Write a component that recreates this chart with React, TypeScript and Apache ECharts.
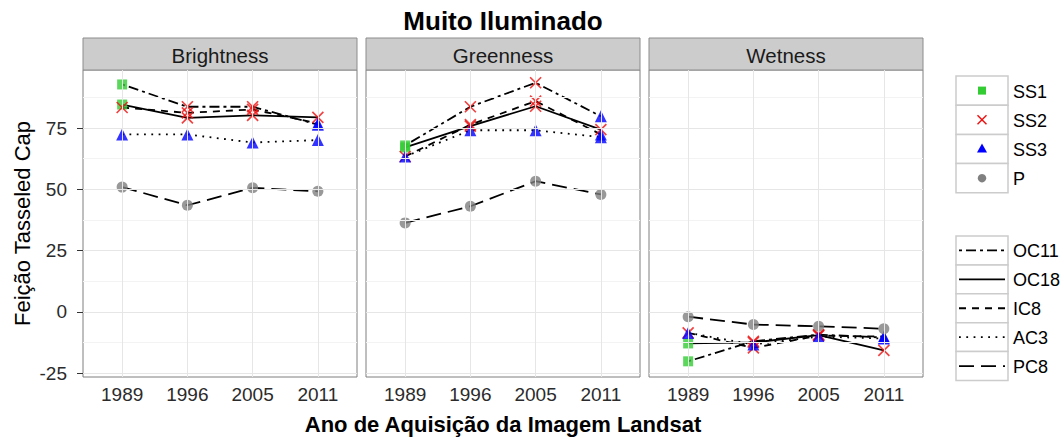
import React, { useEffect, useRef } from 'react';
import * as echarts from 'echarts';

// ---------- data ----------
const years = ['1989', '1996', '2005', '2011'];
const panels = ['Brightness', 'Greenness', 'Wetness'];
const lineTypes = ['OC11', 'OC18', 'IC8', 'AC3', 'PC8'];
const shapeNames = ['SS1', 'SS2', 'SS3', 'P'];
const yTicks = [-25, 0, 25, 50, 75];
const yMinor = [-12.5, 12.5, 37.5, 62.5, 87.5];
const xPositions = [1, 2, 3, 4];

// marker class of each point, per line type (same in every panel)
const shapeOC11 = ['SS1', 'SS2', 'SS2', 'SS3'];
const shapeOC18 = ['SS1', 'SS2', 'SS2', 'SS2'];
const shapeIC8 = ['SS2', 'SS2', 'SS2', 'SS3'];
const shapeAC3 = ['SS3', 'SS3', 'SS3', 'SS3'];
const shapePC8 = ['P', 'P', 'P', 'P'];

const brightnessOC11 = [92.8, 83.7, 83.7, 76.4];
const brightnessOC18 = [84.6, 79.2, 80.2, 79.4];
const brightnessIC8 = [83.4, 81.2, 82.6, 76.9];
const brightnessAC3 = [72.4, 72.4, 69.1, 70.1];
const brightnessPC8 = [50.9, 43.5, 50.6, 49.2];

const greennessOC11 = [67.9, 83.7, 93.5, 79.8];
const greennessOC18 = [67.1, 75.8, 83.9, 74.4];
const greennessIC8 = [63.4, 76.4, 86.0, 72.4];
const greennessAC3 = [63.4, 74.1, 74.1, 71.3];
const greennessPC8 = [36.3, 43.1, 53.3, 47.9];

const wetnessOC11 = [-20.2, -12.0, -9.3, -10.5];
const wetnessOC18 = [-12.9, -12.5, -9.5, -15.7];
const wetnessIC8 = [-8.6, -14.7, -9.7, -10.1];
const wetnessAC3 = [-8.6, -13.3, -10.1, -10.9];
const wetnessPC8 = [-2.0, -5.2, -5.9, -6.9];

// ---------- styling ----------
const FONT = '"Liberation Sans", Arial, Helvetica, sans-serif';
const shapesByLine = [shapeOC11, shapeOC18, shapeIC8, shapeAC3, shapePC8];
const valuesByPanel = [
  [brightnessOC11, brightnessOC18, brightnessIC8, brightnessAC3, brightnessPC8],
  [greennessOC11, greennessOC18, greennessIC8, greennessAC3, greennessPC8],
  [wetnessOC11, wetnessOC18, wetnessIC8, wetnessAC3, wetnessPC8],
];
const dashByLine: any[] = [[3, 4, 10, 4], 'solid', [7, 6], [1.8, 5.5], [15, 7]];
const XPATH = 'path://M0,0L10,10M10,0L0,10';
const shapeStyle: Record<string, any> = {
  SS1: { symbol: 'rect', size: 10, itemStyle: { color: '#33cc33' } },
  SS2: { symbol: XPATH, size: 11, itemStyle: { color: 'rgba(0,0,0,0)', borderColor: '#ee1111', borderWidth: 1.7 } },
  SS3: { symbol: 'triangle', size: 12, itemStyle: { color: '#0000ff' } },
  P: { symbol: 'circle', size: 11, itemStyle: { color: '#808080' } },
};

const PANEL_LEFT = [83, 366, 649];
const PANEL_TOP = 70;
const PANEL_W = 274;
const PANEL_H = 307;
const STRIP_TOP = 38;
const LINE_W = 1.8;

export default function App() {
  const ref = useRef<HTMLDivElement>(null);
  useEffect(() => {
    if (!ref.current) return;
    const chart = echarts.init(ref.current, undefined, { renderer: 'svg' });

    const grid = panels.map((_, i) => ({
      left: PANEL_LEFT[i], top: PANEL_TOP, width: PANEL_W, height: PANEL_H,
      show: true, backgroundColor: '#ffffff', borderColor: '#7f7f7f', borderWidth: 1,
    }));

    const xAxis = panels.map((_, i) => ({
      type: 'value', gridIndex: i, min: 0.4, max: 4.6,
      axisLine: { show: false },
      splitLine: { show: false },
      axisTick: { show: true, customValues: xPositions, length: 6, lineStyle: { color: '#333', width: 1 } },
      axisLabel: {
        show: true, customValues: xPositions, margin: 8, fontSize: 19, color: '#2b2b2b', fontFamily: FONT,
        formatter: (v: number) => years[Math.round(v) - 1] ?? '',
      },
    }));

    const yAxis = panels.map((_, i) => ({
      type: 'value', gridIndex: i, min: -26.6, max: 98.7,
      axisLine: { show: false },
      splitLine: { show: false },
      axisTick: { show: i === 0, customValues: yTicks, length: 6, lineStyle: { color: '#333', width: 1 } },
      axisLabel: {
        show: i === 0, customValues: yTicks, margin: 16, fontSize: 19, color: '#2b2b2b', fontFamily: FONT,
      },
    }));

    const series: any[] = [];
    panels.forEach((_, i) => {
      // grid lines
      series.push({
        type: 'line', xAxisIndex: i, yAxisIndex: i, data: [], silent: true, z: 1,
        markLine: {
          silent: true, symbol: ['none', 'none'], animation: false,
          label: { show: false },
          data: [
            ...yMinor.map((v) => ({ yAxis: v, lineStyle: { color: '#f3f3f3', width: 1, type: 'solid' } })),
            ...yTicks.map((v) => ({ yAxis: v, lineStyle: { color: '#e6e6e6', width: 1, type: 'solid' } })),
            ...xPositions.map((v) => ({ xAxis: v, lineStyle: { color: '#e6e6e6', width: 1, type: 'solid' } })),
          ],
        },
      });
      // lines
      lineTypes.forEach((lt, j) => {
        series.push({
          name: lt, type: 'line', xAxisIndex: i, yAxisIndex: i, z: 3, silent: true,
          symbol: 'none',
          data: valuesByPanel[i][j].map((v, k) => [xPositions[k], v]),
          lineStyle: { color: '#000', width: LINE_W, type: dashByLine[j] },
        });
      });
      // points
      shapeNames.forEach((s) => {
        const pts: number[][] = [];
        lineTypes.forEach((_, j) => {
          valuesByPanel[i][j].forEach((v, k) => {
            if (shapesByLine[j][k] === s) pts.push([xPositions[k], v]);
          });
        });
        const st = shapeStyle[s];
        series.push({
          name: s, type: 'scatter', xAxisIndex: i, yAxisIndex: i, z: 4, silent: true,
          symbol: st.symbol, symbolSize: st.size, itemStyle: st.itemStyle, data: pts,
        });
      });
    });

    // ---------- graphic: title, strips, axis titles, legends ----------
    const g: any[] = [];
    const plotCenter = (PANEL_LEFT[0] + PANEL_LEFT[2] + PANEL_W) / 2;
    g.push({
      type: 'text', x: plotCenter, y: 21,
      style: { text: 'Muito Iluminado', fontSize: 26, fontWeight: 'bold', fontFamily: FONT, fill: '#000', align: 'center', verticalAlign: 'middle' },
    });
    panels.forEach((p, i) => {
      g.push({
        type: 'rect', shape: { x: PANEL_LEFT[i], y: STRIP_TOP, width: PANEL_W, height: PANEL_TOP - STRIP_TOP },
        style: { fill: '#cccccc', stroke: '#8c8c8c', lineWidth: 1 },
      });
      g.push({
        type: 'text', x: PANEL_LEFT[i] + PANEL_W / 2, y: (STRIP_TOP + PANEL_TOP) / 2 + 1,
        style: { text: p, fontSize: 20.5, fontFamily: FONT, fill: '#1a1a1a', align: 'center', verticalAlign: 'middle' },
      });
    });
    g.push({
      type: 'text', x: 22, y: PANEL_TOP + PANEL_H / 2, rotation: Math.PI / 2,
      style: { text: 'Feição Tasseled Cap', fontSize: 22, fontFamily: FONT, fill: '#000', align: 'center', verticalAlign: 'middle' },
    });
    g.push({
      type: 'text', x: plotCenter, y: 424,
      style: { text: 'Ano de Aquisição da Imagem Landsat', fontSize: 22, fontWeight: 'bold', fontFamily: FONT, fill: '#000', align: 'center', verticalAlign: 'middle' },
    });

    const keyX = 956, keyW = 52, cx = keyX + keyW / 2, textX = 1013;
    // shape legend
    const h1 = 29.2, top1 = 76;
    shapeNames.forEach((s, k) => {
      const y0 = top1 + k * h1, cy = y0 + h1 / 2;
      g.push({ type: 'rect', shape: { x: keyX, y: y0, width: keyW, height: h1 }, style: { fill: '#fff', stroke: '#cccccc', lineWidth: 1.5 } });
      if (s === 'SS1') g.push({ type: 'rect', shape: { x: cx - 4, y: cy - 4, width: 8, height: 8 }, style: { fill: '#33cc33' } });
      if (s === 'SS2') {
        g.push({ type: 'line', shape: { x1: cx - 4.5, y1: cy - 4.5, x2: cx + 4.5, y2: cy + 4.5 }, style: { stroke: '#ee1111', lineWidth: 1.5 } });
        g.push({ type: 'line', shape: { x1: cx + 4.5, y1: cy - 4.5, x2: cx - 4.5, y2: cy + 4.5 }, style: { stroke: '#ee1111', lineWidth: 1.5 } });
      }
      if (s === 'SS3') g.push({ type: 'polygon', shape: { points: [[cx, cy - 5.5], [cx + 5, cy + 3.5], [cx - 5, cy + 3.5]] }, style: { fill: '#0000ff' } });
      if (s === 'P') g.push({ type: 'circle', shape: { cx, cy, r: 4.2 }, style: { fill: '#808080' } });
      g.push({ type: 'text', x: textX, y: cy + 1, style: { text: s, fontSize: 18, fontFamily: FONT, fill: '#000', align: 'left', verticalAlign: 'middle' } });
    });
    // linetype legend
    const h2 = 28.9, top2 = 236;
    lineTypes.forEach((lt, k) => {
      const y0 = top2 + k * h2, cy = y0 + h2 / 2;
      g.push({ type: 'rect', shape: { x: keyX, y: y0, width: keyW, height: h2 }, style: { fill: '#fff', stroke: '#cccccc', lineWidth: 1.5 } });
      const d = dashByLine[k];
      g.push({
        type: 'line', shape: { x1: keyX + 3, y1: cy, x2: keyX + keyW - 3, y2: cy },
        style: { stroke: '#000', lineWidth: LINE_W, lineDash: Array.isArray(d) ? d : null },
      });
      g.push({ type: 'text', x: textX, y: cy + 1, style: { text: lt, fontSize: 18, fontFamily: FONT, fill: '#000', align: 'left', verticalAlign: 'middle' } });
    });

    chart.setOption({
      animation: false,
      backgroundColor: '#ffffff',
      textStyle: { fontFamily: FONT },
      grid, xAxis, yAxis, series, graphic: g,
    });
    return () => chart.dispose();
  }, []);
  return <div ref={ref} style={{ position: 'absolute', left: 0, top: 0, width: 1064, height: 441 }} />;
}
